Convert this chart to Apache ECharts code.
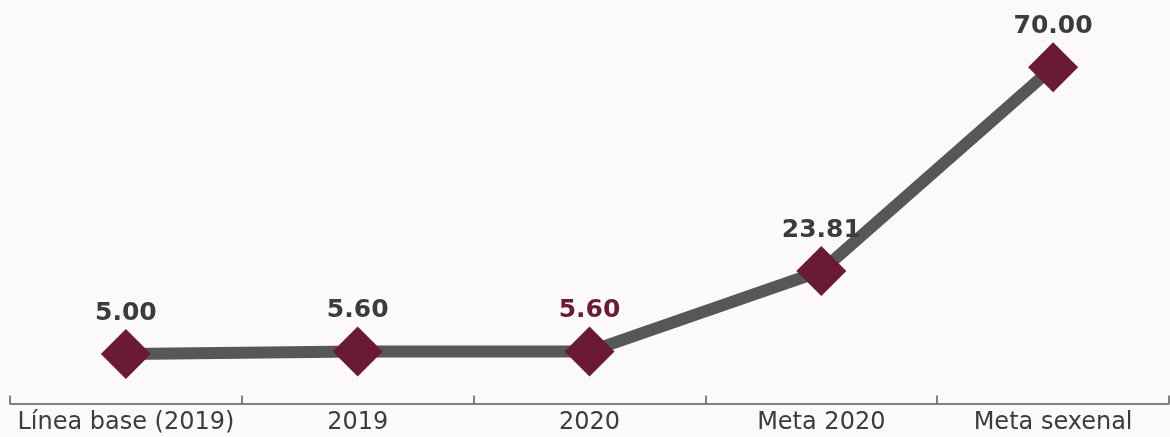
<!DOCTYPE html>
<html>
<head>
<meta charset="utf-8">
<script src="https://cdn.jsdelivr.net/npm/echarts@6/dist/echarts.min.js"></script>
<style>
html,body{margin:0;padding:0;background:#fcf9fa;}
#c{width:1170px;height:437px;}
</style>
</head>
<body>
<div id="c"></div>
<script>
var categories = ['Línea base (2019)', '2019', '2020', 'Meta 2020', 'Meta sexenal'];
var values = [5.00, 5.60, 5.60, 23.81, 70.00];
var highlightCategories = ['2020'];

var FONT = '"DejaVu Sans", sans-serif';
var MAROON = '#6b1a34';
var TEXT = '#3c3c3b';

var chart = echarts.init(document.getElementById('c'));
chart.setOption({
  backgroundColor: '#fcf9fa',
  animation: false,
  grid: {left: 10, right: 1, top: 23, bottom: 33.5, containLabel: false},
  xAxis: {
    type: 'category',
    data: categories,
    boundaryGap: true,
    axisLine: {onZero: false, lineStyle: {color: '#5a5a5a', width: 1.5}},
    axisTick: {show: true, inside: true, length: 8, lineStyle: {color: '#5a5a5a', width: 1.5}},
    axisLabel: {color: TEXT, fontFamily: FONT, fontSize: 24, margin: 7, interval: 0}
  },
  yAxis: {type: 'value', min: -6.2, max: 80, show: false, splitLine: {show: false}},
  series: [{
    type: 'line',
    data: values.map(function (v, i) {
      var item = {value: v};
      if (highlightCategories.indexOf(categories[i]) >= 0) item.label = {color: MAROON};
      return item;
    }),
    symbol: 'diamond',
    symbolSize: 50,
    lineStyle: {color: '#575756', width: 12},
    itemStyle: {color: MAROON},
    z: 3,
    label: {
      show: true,
      position: 'top',
      distance: 3,
      color: TEXT,
      fontFamily: FONT,
      fontWeight: 'bold',
      fontSize: 25,
      formatter: function (p) { return p.value.toFixed(2); }
    }
  }]
});
</script>
</body>
</html>
